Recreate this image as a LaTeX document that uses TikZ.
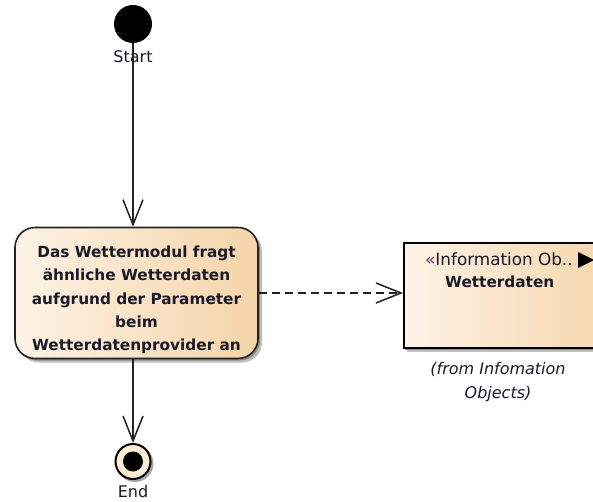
\documentclass[tikz,border=0pt]{standalone}
\usepackage{fontspec}
\setmainfont{DejaVu Sans}
\usetikzlibrary{arrows.meta}

\definecolor{peachL}{RGB}{253,243,230}
\definecolor{peachR}{RGB}{245,212,168}
\definecolor{cream}{RGB}{251,236,214}
\definecolor{edge}{RGB}{35,35,35}
\definecolor{stereo}{RGB}{90,40,100}
\definecolor{ink}{RGB}{25,25,40}

\tikzset{
  flow/.style={line width=1.6pt, draw=edge, -{Straight Barb[length=25pt,width=20pt,line width=1.5pt]}},
  depend/.style={flow, dash pattern=on 8pt off 5pt},
  actbox/.style={draw=edge, line width=1.6pt, rounded corners=20pt, shading=axis,
    left color=peachL, right color=peachR, minimum width=243pt, minimum height=131pt},
  objbox/.style={draw=black, line width=1.6pt, shading=axis,
    left color=peachL, right color=peachR, minimum width=220pt, minimum height=105pt},
  shade1/.style={fill=black!25},
  shade2/.style={fill=black!45},
  acttext/.style={font=\fontsize{15.3}{23.3}\selectfont\bfseries, text=ink, align=center},
  plain/.style={font=\fontsize{16}{20}\selectfont, text=ink},
  note/.style={font=\fontsize{16}{23.5}\selectfont\itshape, text=ink, align=center},
}

\begin{document}
\begin{tikzpicture}[x=1pt,y=-1pt]
  \clip (0,0) rectangle (593,502);
  \fill[white] (0,0) rectangle (593,502);

  % initial node
  \node[circle, fill=black, minimum size=38pt, inner sep=0pt] (start) at (133,24) {};
  \node[plain] (startlabel) at (133,57) {Start};

  % action: shadow, box, text
  \fill[shade1, rounded corners=20pt] (19,231.5) rectangle (262,362.5);
  \fill[shade2, rounded corners=20pt] (17,229.5) rectangle (260,360.5);
  \node[actbox] (action) at (136.5,293) {};
  \node[acttext] (acttext) at (136.5,300) {Das Wettermodul fragt\\ähnliche Wetterdaten\\aufgrund der Parameter\\beim\\Wetterdatenprovider an};

  % information object: shadow, box, labels
  \fill[shade1] (407,246) rectangle (630,352);
  \fill[shade2] (405,244) rectangle (630,350);
  \node[objbox, anchor=north west] (info) at (403,242) {};
  \node[font=\fontsize{16.8}{20}\selectfont, text=ink, anchor=west, inner sep=0pt] (stype) at (425,259) {\textcolor{stereo}{«}Information Ob..};
  \fill[black] (578,252) -- (594,260) -- (578,268) -- cycle;
  \node[font=\fontsize{15.3}{18}\selectfont\bfseries, text=ink, anchor=west, inner sep=0pt] (iname) at (445,282) {Wetterdaten};
  \node[note] (owner) at (498,382) {(from Infomation\\Objects)};

  % final node
  \node[circle, fill=black!35, minimum size=37pt, inner sep=0pt] (endshadow) at (135,463.5) {};
  \node[circle, draw=black, line width=2pt, fill=cream, minimum size=35pt, inner sep=0pt] (end) at (133,461.5) {};
  \node[circle, fill=black, minimum size=20pt, inner sep=0pt] (enddot) at (end.center) {};
  \node[plain] (endlabel) at (133,492) {End};

  % connectors
  \draw[flow] (start.south) -- (start.south |- action.north);
  \draw[flow] (end.north |- action.south) -- (end.north);
  \draw[depend] (action.east) -- (action.east -| info.west);
\end{tikzpicture}
\end{document}
